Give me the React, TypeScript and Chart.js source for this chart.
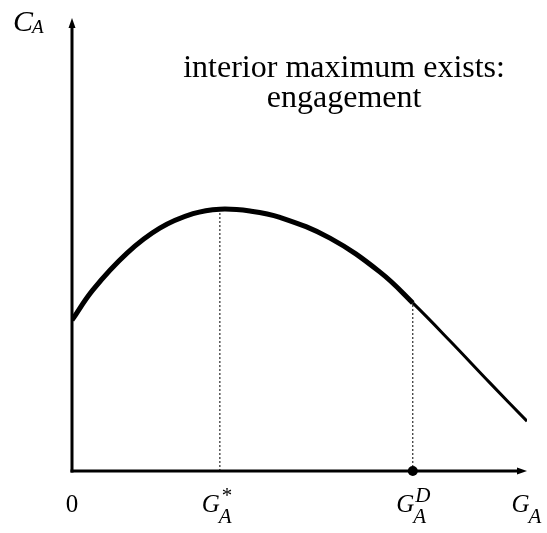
import React, { useEffect, useRef } from "react";
import { Chart, registerables } from "chart.js";

Chart.register(...registerables);

// Curve C_A(G_A) (arbitrary units, axes 0..10)
const curveX = [0, 0.46, 1.21, 1.93, 2.66, 3.25, 3.91, 4.57, 5.67, 6.77, 7.49, 8.31, 9.19, 10];
const curveY = [3.33, 4.0, 4.81, 5.36, 5.68, 5.78, 5.74, 5.6, 5.14, 4.39, 3.71, 2.87, 1.94, 1.1];

const gStar = 3.25; // G*_A (interior maximum)
const gD = 7.49; // G^D_A
const axisMax = 10;

const annotationLines = ["interior maximum exists:", "engagement"];
const annotationX = 5.98;
const annotationY = [8.7, 8.03];

const xLabelBase = ["0", "G", "G", "G"];
const xLabelSub = ["", "A", "A", "A"];
const xLabelSup = ["", "*", "D", ""];
const xLabelPos = [0, gStar - 0.06, gD, 10];
const yLabelBase = "C";
const yLabelSub = "A";

const SERIF = '"Liberation Serif", "DejaVu Serif", serif';

function interpY(x: number): number {
  for (let i = 0; i < curveX.length - 1; i++) {
    if (x >= curveX[i] && x <= curveX[i + 1]) {
      const t = (x - curveX[i]) / (curveX[i + 1] - curveX[i]);
      return curveY[i] + t * (curveY[i + 1] - curveY[i]);
    }
  }
  return curveY[curveY.length - 1];
}

function drawMath(
  ctx: CanvasRenderingContext2D,
  base: string,
  sub: string,
  sup: string,
  cx: number,
  baseline: number,
  size: number,
  italic: boolean,
  smallSize: number,
  subShift: number,
  supShift: number
) {
  const bigFont = `${italic ? "italic " : ""}${size}px ${SERIF}`;
  const smallFont = `italic ${smallSize}px ${SERIF}`;
  ctx.font = bigFont;
  const wb = ctx.measureText(base).width;
  ctx.font = smallFont;
  const ws = sub ? ctx.measureText(sub).width : 0;
  const wp = sup ? ctx.measureText(sup).width : 0;
  const total = wb + Math.max(ws, wp);
  const x0 = cx - total / 2;
  ctx.fillStyle = "#000";
  ctx.textAlign = "left";
  ctx.textBaseline = "alphabetic";
  ctx.font = bigFont;
  ctx.fillText(base, x0, baseline);
  ctx.font = smallFont;
  if (sub) ctx.fillText(sub, x0 + wb - 1, baseline + subShift);
  if (sup) ctx.fillText(sup, x0 + wb + 1, baseline - supShift);
}

const decorPlugin = {
  id: "decor",
  beforeDatasetsDraw(chart: any) {
    const ctx = chart.ctx as CanvasRenderingContext2D;
    const xs = chart.scales.x;
    const ys = chart.scales.y;
    const x0 = xs.getPixelForValue(0);
    const y0 = ys.getPixelForValue(0);
    const xEnd = xs.getPixelForValue(axisMax);
    const yEnd = ys.getPixelForValue(axisMax);
    ctx.save();
    ctx.strokeStyle = "#000";
    ctx.fillStyle = "#000";
    ctx.lineWidth = 3;
    ctx.lineCap = "butt";
    // y axis
    ctx.beginPath();
    ctx.moveTo(x0, y0 + 1.5);
    ctx.lineTo(x0, yEnd + 6);
    ctx.stroke();
    ctx.beginPath();
    ctx.moveTo(x0, yEnd);
    ctx.lineTo(x0 - 3.5, yEnd + 10);
    ctx.lineTo(x0 + 3.5, yEnd + 10);
    ctx.closePath();
    ctx.fill();
    // x axis
    ctx.beginPath();
    ctx.moveTo(x0 - 1.5, y0);
    ctx.lineTo(xEnd - 6, y0);
    ctx.stroke();
    ctx.beginPath();
    ctx.moveTo(xEnd, y0);
    ctx.lineTo(xEnd - 10, y0 - 3.5);
    ctx.lineTo(xEnd - 10, y0 + 3.5);
    ctx.closePath();
    ctx.fill();
    ctx.restore();
  },
  afterDraw(chart: any) {
    const ctx = chart.ctx as CanvasRenderingContext2D;
    const xs = chart.scales.x;
    const ys = chart.scales.y;
    ctx.save();
    // axis labels
    const baseY = ys.getPixelForValue(0) + 41;
    for (let i = 0; i < xLabelBase.length; i++) {
      drawMath(
        ctx,
        xLabelBase[i],
        xLabelSub[i],
        xLabelSup[i],
        xs.getPixelForValue(xLabelPos[i]),
        baseY,
        25,
        i > 0,
        21,
        11,
        10
      );
    }
    drawMath(
      ctx,
      yLabelBase,
      yLabelSub,
      "",
      xs.getPixelForValue(-0.95),
      ys.getPixelForValue(axisMax) + 13,
      30,
      true,
      19,
      2,
      0
    );
    // annotation
    ctx.font = `32px ${SERIF}`;
    ctx.textAlign = "center";
    ctx.textBaseline = "alphabetic";
    ctx.fillStyle = "#000";
    annotationLines.forEach((t, i) => {
      ctx.fillText(t, xs.getPixelForValue(annotationX), ys.getPixelForValue(annotationY[i]));
    });
    ctx.restore();
  },
};

export default function App() {
  const ref = useRef<HTMLCanvasElement | null>(null);
  useEffect(() => {
    if (!ref.current) return;
    const curve = curveX.map((x, i) => ({ x, y: curveY[i] }));
    const chart = new Chart(ref.current, {
      type: "scatter",
      data: {
        datasets: [
          {
            data: [
              { x: gStar, y: 0 },
              { x: gStar, y: interpY(gStar) },
            ],
            showLine: true,
            borderColor: "#000",
            borderWidth: 1,
            borderDash: [2, 2],
            pointRadius: 0,
          },
          {
            data: [
              { x: gD, y: 0 },
              { x: gD, y: interpY(gD) },
            ],
            showLine: true,
            borderColor: "#000",
            borderWidth: 1,
            borderDash: [2, 2],
            pointRadius: 0,
          },
          {
            data: curve,
            showLine: true,
            borderColor: "#000",
            borderWidth: 5,
            pointRadius: 0,
            tension: 0.4,
            segment: {
              borderWidth: (c: any) => (c.p0.parsed.x >= gD - 1e-6 ? 3 : 5),
            },
          } as any,
          {
            data: [{ x: gD, y: 0 }],
            pointRadius: 5,
            pointBackgroundColor: "#000",
            pointBorderColor: "#000",
            pointBorderWidth: 0,
            clip: false,
          } as any,
        ],
      },
      options: {
        responsive: false,
        animation: false,
        layout: { padding: { left: 72, right: 20, top: 18, bottom: 62 } },
        plugins: { legend: { display: false }, tooltip: { enabled: false } },
        scales: {
          x: { type: "linear", min: 0, max: axisMax, display: false },
          y: { type: "linear", min: 0, max: axisMax, display: false },
        },
      },
      plugins: [decorPlugin],
    });
    return () => chart.destroy();
  }, []);
  return (
    <div style={{ position: "fixed", left: 0, top: 0, width: 547, height: 533, background: "#fff" }}>
      <canvas ref={ref} width={547} height={533} />
    </div>
  );
}
